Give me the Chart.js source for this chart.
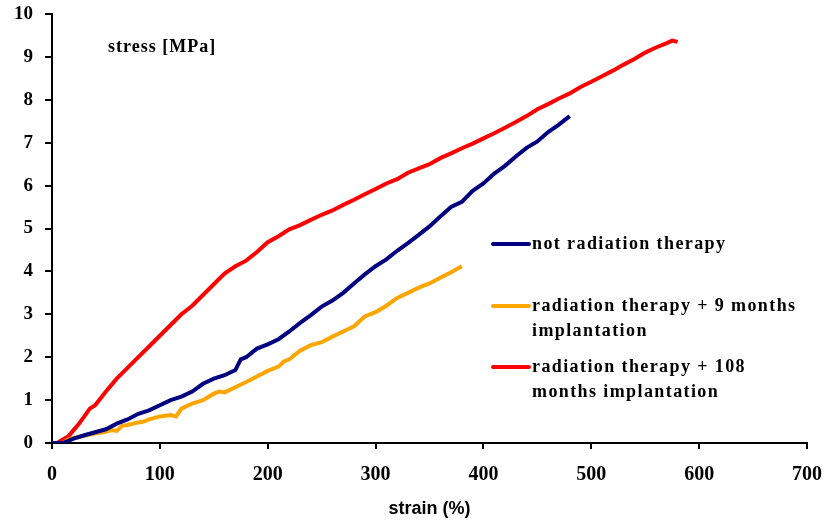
<!DOCTYPE html>
<html>
<head>
<meta charset="utf-8">
<script src="https://cdn.jsdelivr.net/npm/chart.js@4/dist/chart.umd.min.js"></script>
<style>
  html, body { margin: 0; padding: 0; background: #fff; }
  #wrap { width: 827px; height: 520px; position: relative; }
</style>
</head>
<body>
<div id="wrap"><canvas id="myChart" width="827" height="520"></canvas></div>
<script>
// axis ticks
var strainTicks = [0, 100, 200, 300, 400, 500, 600, 700];
var stressTicks = [0, 1, 2, 3, 4, 5, 6, 7, 8, 9, 10];

// series labels (legend text, wrapped as in the original)
var seriesNames = [
    ['not radiation therapy'],
    ['radiation therapy + 9 months', 'implantation'],
    ['radiation therapy + 108', 'months implantation']
];

// not radiation therapy
var noRadStrain = [0, 10, 20, 30, 40, 50, 60, 70, 80, 90, 100, 110, 120, 130, 140, 150, 160, 170, 175, 180, 190, 200, 210, 220, 230, 240, 250, 260, 270, 280, 290, 300, 310, 320, 330, 340, 350, 360, 370, 380, 390, 400, 410, 420, 430, 440, 450, 460, 470, 480];
var noRadStress = [0, 0.0, 0.1, 0.18, 0.25, 0.32, 0.45, 0.55, 0.68, 0.76, 0.88, 1.0, 1.08, 1.2, 1.38, 1.5, 1.58, 1.7, 1.95, 2.0, 2.2, 2.3, 2.42, 2.6, 2.8, 2.98, 3.18, 3.32, 3.5, 3.72, 3.93, 4.12, 4.28, 4.48, 4.66, 4.85, 5.05, 5.28, 5.5, 5.62, 5.88, 6.05, 6.28, 6.46, 6.68, 6.88, 7.03, 7.25, 7.42, 7.62];

// radiation therapy + 9 months implantation
var rad9Strain = [0, 10, 15, 20, 30, 40, 50, 55, 60, 65, 70, 80, 85, 90, 100, 110, 115, 120, 130, 140, 150, 155, 160, 170, 180, 190, 200, 210, 215, 220, 230, 240, 250, 260, 270, 280, 290, 300, 310, 320, 330, 340, 350, 360, 370, 380];
var rad9Stress = [0, 0.0, 0.08, 0.12, 0.17, 0.22, 0.26, 0.3, 0.28, 0.4, 0.42, 0.48, 0.5, 0.55, 0.62, 0.65, 0.62, 0.8, 0.92, 1.0, 1.15, 1.2, 1.18, 1.3, 1.42, 1.55, 1.68, 1.78, 1.9, 1.95, 2.15, 2.28, 2.35, 2.48, 2.6, 2.72, 2.95, 3.05, 3.2, 3.38, 3.5, 3.62, 3.72, 3.85, 3.98, 4.12];

// radiation therapy + 108 months implantation
var rad108Strain = [0, 5, 10, 15, 20, 25, 30, 35, 40, 50, 60, 70, 80, 90, 100, 110, 120, 130, 140, 150, 160, 170, 180, 190, 200, 210, 220, 230, 240, 250, 260, 270, 280, 290, 300, 310, 320, 330, 340, 350, 360, 370, 380, 390, 400, 410, 420, 430, 440, 450, 460, 470, 480, 490, 500, 510, 520, 530, 540, 550, 560, 570, 575, 580];
var rad108Stress = [0, 0, 0.08, 0.15, 0.3, 0.45, 0.62, 0.8, 0.88, 1.2, 1.5, 1.75, 2.0, 2.25, 2.5, 2.75, 3.0, 3.2, 3.45, 3.7, 3.95, 4.12, 4.25, 4.45, 4.68, 4.82, 4.98, 5.08, 5.2, 5.32, 5.42, 5.55, 5.67, 5.8, 5.92, 6.05, 6.15, 6.3, 6.4, 6.5, 6.64, 6.75, 6.87, 6.98, 7.1, 7.22, 7.35, 7.48, 7.62, 7.78, 7.9, 8.03, 8.15, 8.3, 8.42, 8.55, 8.68, 8.82, 8.95, 9.1, 9.22, 9.32, 9.38, 9.35];

function toPoints(xs, ys) {
    return xs.map(function (x, i) { return { x: x, y: ys[i] }; });
}

var serifFamily = '"Liberation Serif", "Times New Roman", serif';

// text inside the plot: the y caption and the legend
var overlayPlugin = {
    id: 'overlay',
    afterDraw: function (chart) {
        var ctx = chart.ctx;
        ctx.save();
        ctx.fillStyle = '#000';
        ctx.textBaseline = 'middle';
        ctx.textAlign = 'left';
        ctx.letterSpacing = '1px';
        ctx.font = 'bold 18px ' + serifFamily;
        ctx.fillText('stress [MPa]', 108, 47);

        var rows = [244, 306, 367];
        ctx.letterSpacing = '1.4px';
        ctx.font = 'bold 18px ' + serifFamily;
        chart.data.datasets.forEach(function (ds, i) {
            ctx.strokeStyle = ds.borderColor;
            ctx.lineWidth = 4;
            ctx.lineCap = 'round';
            ctx.beginPath();
            ctx.moveTo(493, rows[i]);
            ctx.lineTo(529, rows[i]);
            ctx.stroke();
            seriesNames[i].forEach(function (line, j) {
                ctx.fillText(line, 532, rows[i] + j * 25);
            });
        });
        ctx.restore();
    }
};

var ctx = document.getElementById('myChart').getContext('2d');
var myChart = new Chart(ctx, {
    type: 'scatter',
    data: {
        datasets: [{
            label: seriesNames[0].join(' '),
            data: toPoints(noRadStrain, noRadStress),
            borderColor: '#000080'
        }, {
            label: seriesNames[1].join(' '),
            data: toPoints(rad9Strain, rad9Stress),
            borderColor: '#FFA500'
        }, {
            label: seriesNames[2].join(' '),
            data: toPoints(rad108Strain, rad108Stress),
            borderColor: '#FF0000'
        }]
    },
    options: {
        responsive: false,
        animation: false,
        datasets: {
            scatter: {
                showLine: true,
                pointRadius: 0,
                borderWidth: 4,
                tension: 0
            }
        },
        layout: { padding: { top: 14, right: 20, left: 0, bottom: 0 } },
        plugins: {
            legend: { display: false },
            tooltip: { enabled: false }
        },
        scales: {
            x: {
                type: 'linear',
                min: 0,
                max: 700,
                afterBuildTicks: function (axis) {
                    axis.ticks = strainTicks.map(function (v) { return { value: v }; });
                },
                afterFit: function (axis) {
                    axis.height = 77;
                    axis.paddingLeft = 0;
                    axis.paddingRight = 0;
                },
                grid: {
                    drawOnChartArea: false,
                    drawTicks: true,
                    tickLength: 6,
                    color: '#000',
                    lineWidth: 2
                },
                border: { display: true, color: '#000', width: 2 },
                ticks: {
                    color: '#000',
                    padding: 14,
                    maxRotation: 0,
                    font: { family: serifFamily, size: 20, weight: 'bold' }
                },
                title: {
                    display: true,
                    text: 'strain (%)',
                    color: '#000',
                    padding: { top: 10, bottom: 0 },
                    font: { family: '"Liberation Sans", Arial, sans-serif', size: 18, weight: 'bold' }
                }
            },
            y: {
                min: 0,
                max: 10,
                afterBuildTicks: function (axis) {
                    axis.ticks = stressTicks.map(function (v) { return { value: v }; });
                },
                afterFit: function (axis) {
                    axis.width = 52;
                    axis.paddingTop = 0;
                    axis.paddingBottom = 0;
                },
                grid: {
                    drawOnChartArea: false,
                    drawTicks: true,
                    tickLength: 7,
                    color: '#000',
                    lineWidth: 2
                },
                border: { display: true, color: '#000', width: 2 },
                ticks: {
                    color: '#000',
                    padding: 12,
                    font: { family: serifFamily, size: 19, weight: 'bold' }
                }
            }
        }
    },
    plugins: [overlayPlugin]
});
</script>
</body>
</html>
